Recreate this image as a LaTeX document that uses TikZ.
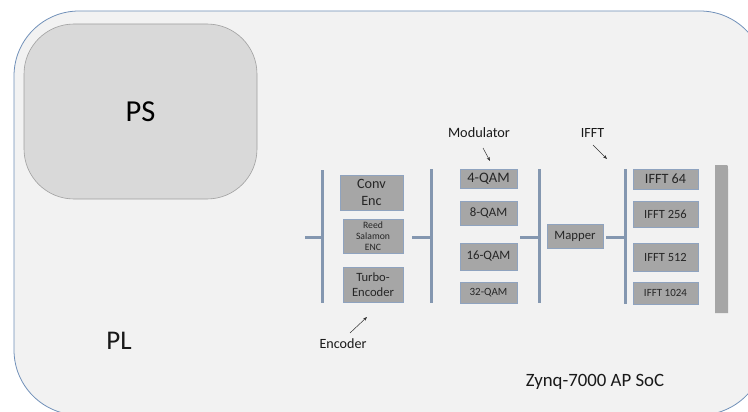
\documentclass[tikz,border=0pt]{standalone}
\usepackage{fontspec}
\setmainfont{Carlito}
\usetikzlibrary{arrows.meta}
\definecolor{bgfill}{HTML}{F2F2F2}
\definecolor{outline}{HTML}{6F8FB8}
\definecolor{psfill}{HTML}{D9D9D9}
\definecolor{psline}{HTML}{A0A0A0}
\definecolor{boxfill}{HTML}{A6A6A6}
\definecolor{boxline}{HTML}{8FA3BF}
\definecolor{barcol}{HTML}{8497B0}
\newcommand{\fsz}[1]{\fontsize{#1}{#1}\selectfont}
\begin{document}
\begin{tikzpicture}[x=1pt,y=-1pt,
  blk/.style={draw=boxline, line width=0.8pt, fill=boxfill, inner sep=0pt, align=center, text=black!85},
  barline/.style={draw=barcol, line width=3pt},
  lblarrow/.style={draw=black!80, line width=0.5pt, -{Stealth[length=4pt,width=3pt]}},
  lbl/.style={inner sep=0pt, text=black!90}]
\useasboundingbox (0,0) rectangle (748,412);
% outer SoC
\draw[outline, line width=0.8pt, fill=bgfill, rounded corners=65pt] (14,11) rectangle (765,415);
% PS
\node[draw=psline, line width=0.6pt, fill=psfill, rounded corners=50pt, minimum width=233pt, minimum height=175pt, font=\fsz{30.5}] (ps) at (140.5,111.5) {PS};
\node[lbl, font=\fsz{27}] (pl) at (119,340.5) {PL};
\node[lbl, font=\fsz{18.8}] (soc) at (595,382) {Zynq-7000 AP SoC};
% encoder blocks
\node[blk, minimum width=63pt, minimum height=35pt, font=\fontsize{14.2}{17}\selectfont] (conv) at (371.5,192.5) {Conv\\Enc};
\node[blk, minimum width=60pt, minimum height=34pt, font=\fontsize{9.7}{11}\selectfont] (reed) at (373,236) {Reed\\Salamon\\ENC};
\node[blk, minimum width=60pt, minimum height=35pt, font=\fontsize{12.6}{15}\selectfont] (turbo) at (373,284.5) {Turbo-\\Encoder};
% modulator blocks
\node[blk, minimum width=57pt, minimum height=19pt, font=\fsz{14.5}] (q4) at (488.5,178.5) {4-QAM};
\node[blk, minimum width=57pt, minimum height=24pt, font=\fsz{12.8}] (q8) at (488.5,213) {8-QAM};
\node[blk, minimum width=57pt, minimum height=27pt, font=\fsz{12.8}] (q16) at (488.5,256.5) {16-QAM};
\node[blk, minimum width=57pt, minimum height=21pt, font=\fsz{11}] (q32) at (488.5,292.5) {32-QAM};
% mapper
\node[blk, minimum width=56pt, minimum height=24pt, font=\fsz{12.7}] (mapper) at (575,236) {Mapper};
% IFFT blocks
\node[blk, minimum width=65pt, minimum height=20pt, font=\fsz{14.2}] (f64) at (665.5,179) {IFFT 64};
\node[blk, minimum width=65pt, minimum height=26pt, font=\fsz{12.5}] (f256) at (665.5,214) {IFFT 256};
\node[blk, minimum width=65pt, minimum height=28pt, font=\fsz{12.5}] (f512) at (665.5,257) {IFFT 512};
\node[blk, minimum width=65pt, minimum height=22pt, font=\fsz{11}] (f1024) at (665.5,293) {IFFT 1024};
% right gray bar
\fill[boxfill] (715,165) -- (724,165) .. controls (728,165) .. (728,169) -- (728,313) -- (715,313) -- cycle;
% bars
\coordinate (encT) at (322,170); \coordinate (encB) at (322,303);
\coordinate (encIn) at (305,237); \coordinate (encJ) at (322,237);
\coordinate (modLT) at (431,169); \coordinate (modLB) at (431,303);
\coordinate (modLJ) at (431,237); \coordinate (encOut) at (412,237);
\coordinate (modRT) at (539,169); \coordinate (modRB) at (539,303);
\coordinate (modRJ) at (539,237); \coordinate (modOut) at (520,237);
\coordinate (ifT) at (625,169); \coordinate (ifB) at (625,304);
\coordinate (ifJ) at (625,237); \coordinate (mapOut) at (606,237);
\draw[barline] (encT) -- (encB);
\draw[barline] (encIn) -- (encJ);
\draw[barline] (modLT) -- (modLB);
\draw[barline] (encOut) -- (modLJ);
\draw[barline] (modRT) -- (modRB);
\draw[barline] (modOut) -- (modRJ);
\draw[barline] (ifT) -- (ifB);
\draw[barline] (mapOut) -- (ifJ);
% labels with arrows
\node[lbl, font=\fsz{14.3}] (modlbl) at (479,133) {Modulator};
\coordinate (modA) at (483,148); \coordinate (modB) at (490,161);
\draw[lblarrow] (modA) -- (modB);
\node[lbl, font=\fsz{14}] (ifftlbl) at (592.5,133) {IFFT};
\coordinate (ifA) at (593,145); \coordinate (ifB2) at (607,159);
\draw[lblarrow] (ifA) -- (ifB2);
\node[lbl, font=\fsz{14.1}] (enclbl) at (343,344) {Encoder};
\coordinate (encA) at (350,333); \coordinate (encB2) at (367,317);
\draw[lblarrow] (encA) -- (encB2);
\end{tikzpicture}
\end{document}
